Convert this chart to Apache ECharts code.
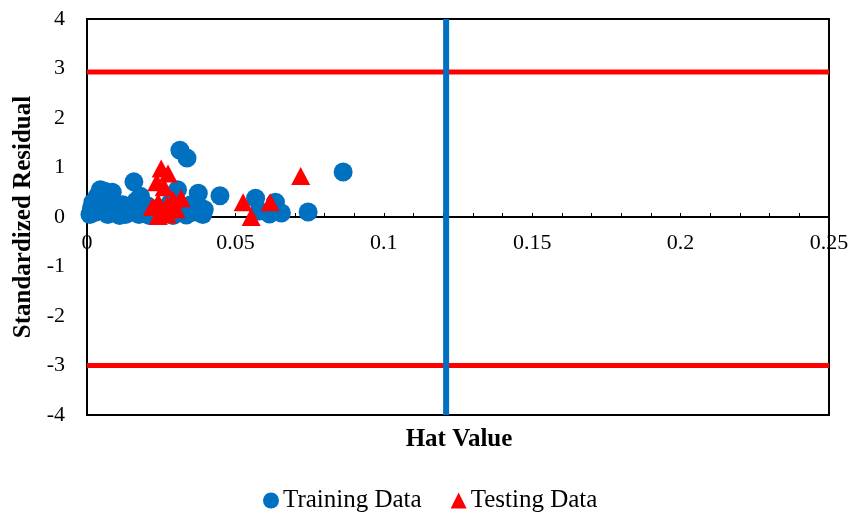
<!DOCTYPE html>
<html>
<head>
<meta charset="utf-8">
<script src="https://cdn.jsdelivr.net/npm/echarts@6/dist/echarts.min.js"></script>
<style>
  html, body { margin: 0; padding: 0; background: #fff; }
  #chart { width: 856px; height: 522px; }
</style>
</head>
<body>
<div id="chart"></div>
<script>
// Leverage plot: standardized residual vs hat value
const trainingData = [
  [0.001, 0.05], [0.0015, 0.18], [0.002, 0.3], [0.003, 0.1], [0.0035, 0.42],
  [0.0045, 0.55], [0.006, 0.52], [0.0055, 0.22], [0.007, 0.05], [0.008, 0.32],
  [0.0085, 0.5], [0.0095, 0.12], [0.011, 0.03], [0.012, 0.25], [0.013, 0.05],
  [0.014, 0.15], [0.0158, 0.71], [0.0165, 0.32], [0.0175, 0.05], [0.018, 0.42],
  [0.019, 0.12], [0.0205, 0.22], [0.021, 0.03], [0.0225, 0.12], [0.026, 0.1],
  [0.028, 0.28], [0.029, 0.03], [0.0305, 0.55], [0.0313, 1.35], [0.0337, 1.19],
  [0.032, 0.15], [0.0335, 0.04], [0.035, 0.25], [0.036, 0.1], [0.0375, 0.48],
  [0.038, 0.2], [0.039, 0.05], [0.0395, 0.15], [0.0448, 0.43], [0.0568, 0.38],
  [0.058, 0.12], [0.0615, 0.06], [0.0635, 0.3], [0.0655, 0.08], [0.0745, 0.1],
  [0.0863, 0.91]
];
const testingData = [
  [0.025, 0.98], [0.0273, 0.88], [0.0235, 0.7], [0.026, 0.6], [0.022, 0.2],
  [0.024, 0.3], [0.027, 0.24], [0.029, 0.35], [0.0317, 0.38], [0.030, 0.15],
  [0.024, 0.02], [0.027, 0.05], [0.0526, 0.3], [0.0553, 0.0], [0.0617, 0.3],
  [0.072, 0.83]
];
const residualLimits = [2.93, -3];     // horizontal warning limits
const hatCritical = 0.121;             // critical leverage
const xTicks = [0, 0.05, 0.1, 0.15, 0.2, 0.25];
const yTicks = [-4, -3, -2, -1, 0, 1, 2, 3, 4];

const serif = '"Liberation Serif", "Times New Roman", serif';
const xMin = xTicks[0], xMax = xTicks[xTicks.length - 1];
const yMin = yTicks[0], yMax = yTicks[yTicks.length - 1];

const gridTop = 19, gridBottom = 107, chartH = 522;
// the x axis (line, ticks and labels) sits on the zero residual line
const plotH = chartH - gridTop - gridBottom;
const zeroOffset = -plotH * (0 - yMin) / (yMax - yMin);

const limitSeries = residualLimits.map((v, i) => ({
  name: 'limit' + i,
  type: 'line',
  data: [[xMin, v], [xMax, v]],
  symbol: 'none',
  silent: true,
  lineStyle: { color: '#FF0000', width: 5 },
  z: 2
}));

const chart = echarts.init(document.getElementById('chart'), null, { renderer: 'canvas' });
chart.setOption({
  animation: false,
  backgroundColor: '#fff',
  title: {
    text: 'Hat Value',
    left: 454,
    top: 422,
    textAlign: 'center',
    textStyle: { fontFamily: serif, fontWeight: 'bold', fontSize: 25, color: '#000' }
  },
  grid: {
    left: 87, right: 27, top: gridTop, bottom: gridBottom,
    show: true, borderColor: '#000', borderWidth: 2, backgroundColor: 'transparent'
  },
  legend: {
    data: [
      { name: 'Training Data', icon: 'circle' },
      { name: 'Testing Data', icon: 'triangle' }
    ],
    bottom: 4,
    left: 258,
    itemWidth: 16,
    itemHeight: 16,
    itemGap: 29,
    textStyle: { fontFamily: serif, fontSize: 25, color: '#000', padding: [0, 0, 0, -1] }
  },
  xAxis: {
    type: 'value',
    position: 'bottom',
    offset: zeroOffset,
    min: xMin, max: xMax, interval: 0.05,
    axisLine: { onZero: false, lineStyle: { color: '#000', width: 2 } },
    axisTick: { show: true, inside: true, length: 4, lineStyle: { color: '#000' } },
    minorTick: { show: true, splitNumber: 5, length: 4, lineStyle: { color: '#000' } },
    splitLine: { show: false },
    axisLabel: {
      margin: 15, fontFamily: serif, fontSize: 22, color: '#000',
      formatter: v => String(+v.toFixed(2))
    }
  },
  yAxis: {
    type: 'value',
    min: yMin, max: yMax, interval: 1,
    name: 'Standardized Residual',
    nameLocation: 'middle',
    nameGap: 49,
    nameTextStyle: { fontFamily: serif, fontWeight: 'bold', fontSize: 25, color: '#000' },
    axisLine: { show: true, onZero: false, lineStyle: { color: '#000', width: 2 } },
    axisTick: { show: false },
    splitLine: { show: false },
    axisLabel: { margin: 22, fontFamily: serif, fontSize: 22, color: '#000' }
  },
  series: [
    ...limitSeries,
    {
      name: 'critical',
      type: 'line',
      data: [[hatCritical, yMin], [hatCritical, yMax]],
      symbol: 'none',
      silent: true,
      lineStyle: { color: '#0070C0', width: 6 },
      z: 3
    },
    {
      name: 'Training Data',
      type: 'scatter',
      data: trainingData,
      symbol: 'circle',
      symbolSize: 19,
      itemStyle: { color: '#0070C0', opacity: 1 },
      z: 4
    },
    {
      name: 'Testing Data',
      type: 'scatter',
      data: testingData,
      symbol: 'triangle',
      symbolSize: [19, 18],
      itemStyle: { color: '#FF0000', opacity: 1 },
      z: 5
    }
  ]
});
</script>
</body>
</html>
